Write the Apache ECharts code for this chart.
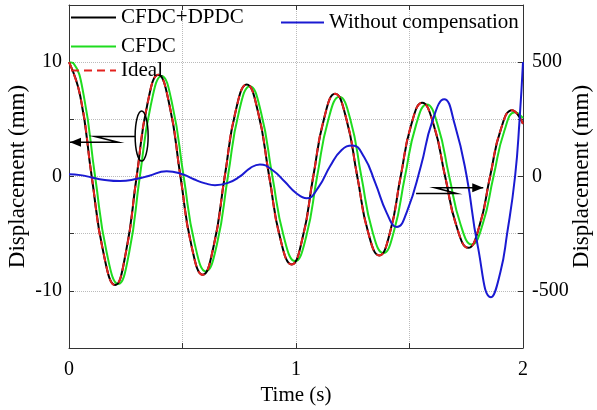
<!DOCTYPE html>
<html>
<head>
<meta charset="utf-8">
<script src="https://cdn.jsdelivr.net/npm/echarts@6/dist/echarts.min.js"></script>
<style>
html, body { margin: 0; padding: 0; background: #fff; }
#chart { width: 597px; height: 410px; }
</style>
</head>
<body>
<div id="chart"></div>
<script>
// [time (s), displacement (mm)]
const ideal = [
  [0, 10], [0.05, 7.0], [0.10, 0], [0.152, -6.7], [0.203, -9.5], [0.25, -6.7], [0.298, 0],
  [0.345, 6.3], [0.393, 8.9], [0.442, 6.3], [0.491, 0], [0.54, -6.1], [0.589, -8.6],
  [0.637, -6.1], [0.686, 0], [0.734, 5.7], [0.783, 8.05], [0.832, 5.7], [0.882, 0],
  [0.931, -5.45], [0.981, -7.7], [1.028, -5.45], [1.076, 0], [1.124, 5.1], [1.172, 7.23],
  [1.221, 5.1], [1.27, 0], [1.318, -4.9], [1.367, -6.9], [1.414, -4.9], [1.461, 0],
  [1.508, 4.55], [1.556, 6.44], [1.606, 4.55], [1.657, 0], [1.708, -4.4], [1.759, -6.24],
  [1.807, -4.4], [1.855, 0], [1.902, 4.1], [1.952, 5.8], [2.0, 4.6]
];
const cfdcDpdc = [
  [0, 10], [0.05, 7.0], [0.10, 0], [0.152, -6.7], [0.203, -9.5], [0.25, -6.7], [0.298, 0],
  [0.345, 6.3], [0.393, 8.9], [0.442, 6.3], [0.491, 0], [0.54, -6.1], [0.589, -8.6],
  [0.637, -6.1], [0.686, 0], [0.734, 5.7], [0.783, 8.05], [0.832, 5.7], [0.882, 0],
  [0.931, -5.45], [0.981, -7.7], [1.028, -5.45], [1.076, 0], [1.124, 5.1], [1.172, 7.23],
  [1.221, 5.1], [1.27, 0], [1.318, -4.9], [1.367, -6.9], [1.414, -4.9], [1.461, 0],
  [1.508, 4.55], [1.556, 6.44], [1.606, 4.55], [1.657, 0], [1.708, -4.4], [1.759, -6.24],
  [1.807, -4.4], [1.855, 0], [1.902, 4.1], [1.952, 5.8], [2.0, 4.6]
];
const cfdc = [
  [0, 10], [0.02, 9.9], [0.065, 7.07], [0.115, 0], [0.166, -6.65], [0.217, -9.4], [0.265, -6.65],
  [0.312, 0], [0.36, 6.2], [0.408, 8.8], [0.456, 6.2], [0.505, 0], [0.554, -5.9], [0.603, -8.3],
  [0.652, -5.9], [0.70, 0], [0.748, 5.6], [0.797, 7.9], [0.846, 5.6], [0.896, 0],
  [0.946, -5.25], [0.996, -7.4], [1.045, -5.25], [1.093, 0], [1.142, 4.95], [1.191, 6.97],
  [1.24, 4.95], [1.288, 0], [1.336, -4.75], [1.385, -6.7], [1.432, -4.75], [1.48, 0],
  [1.528, 4.45], [1.576, 6.3], [1.625, 4.45], [1.675, 0], [1.725, -4.2], [1.774, -5.95],
  [1.822, -4.2], [1.87, 0], [1.918, 4.0], [1.965, 5.63], [2.0, 5.1]
];
// [time (s), displacement (mm)] on the right axis
const withoutComp = [
  [0, 10], [0.05, 6], [0.1, -4], [0.15, -14], [0.225, -20], [0.3, -10], [0.35, 2], [0.43, 23],
  [0.5, 10], [0.55, -12], [0.6, -30], [0.643, -38], [0.7, -28], [0.75, -2], [0.8, 38],
  [0.841, 53], [0.9, 25], [0.95, -22], [1.0, -72], [1.047, -95], [1.1, -45], [1.15, 45],
  [1.2, 115], [1.248, 136], [1.3, 85], [1.35, -30], [1.4, -160], [1.444, -221], [1.49, -150],
  [1.55, 45], [1.6, 240], [1.653, 338], [1.7, 225], [1.752, 0], [1.8, -300], [1.859, -528],
  [1.9, -420], [1.93, -250], [1.965, 0], [1.985, 250], [2.0, 500]
];

const xTicks = [0, 1, 2];
const leftTicks = [-10, 0, 10];
const rightTicks = [-500, 0, 500];

const FONT = "'Liberation Serif', 'Times New Roman', serif";

var chart = echarts.init(document.getElementById('chart'));

const legendBase = {
  orient: 'vertical',
  itemWidth: 45,
  itemHeight: 14,
  padding: 0,
  selectedMode: false,
  itemStyle: { opacity: 0 }, // hide the symbol, keep the line
  textStyle: { fontSize: 21, fontFamily: FONT, color: '#000' }
};

const axisLine = { show: true, onZero: false, lineStyle: { color: '#333', width: 1 } };
const axisTick = { show: true, inside: true, length: 5, lineStyle: { color: '#333' } };

var option = {
  animation: false,
  backgroundColor: '#fff',
  textStyle: { fontFamily: FONT },
  legend: [
    Object.assign({ data: ['CFDC+DPDC'], left: 70, top: 7 }, legendBase),
    Object.assign({ data: ['CFDC'], left: 70, top: 36 }, legendBase),
    Object.assign({ data: ['Ideal'], left: 70, top: 60 }, legendBase),
    Object.assign({}, legendBase, { data: ['Without compensation'], left: 280, top: 12, itemWidth: 43 })
  ],
  grid: { left: 69, right: 74, top: 5, bottom: 62, containLabel: false, outerBoundsMode: 'none' },
  xAxis: [
    {
      type: 'value', min: 0, max: 2, interval: 0.5,
      name: 'Time (s)', nameLocation: 'middle', nameGap: 32,
      nameTextStyle: { fontSize: 21, fontFamily: FONT, color: '#000' },
      axisLine: axisLine,
      axisTick: axisTick,
      axisLabel: {
        fontSize: 20, fontFamily: FONT, color: '#000', margin: 12,
        formatter: v => xTicks.includes(v) ? String(v) : ''
      },
      splitLine: { show: true, lineStyle: { type: 'dotted', color: '#bbb', width: 1 } }
    },
    {
      type: 'value', min: 0, max: 2, interval: 0.5, position: 'top',
      axisLine: axisLine,
      axisTick: axisTick,
      axisLabel: { show: false },
      splitLine: { show: false }
    }
  ],
  yAxis: [
    {
      type: 'value', min: -15, max: 15, interval: 5,
      name: 'Displacement (mm)', nameLocation: 'middle', nameGap: 40, nameMoveOverlap: false,
      nameTextStyle: { fontSize: 23, fontFamily: FONT, color: '#000' },
      axisLine: axisLine,
      axisTick: axisTick,
      axisLabel: {
        fontSize: 20, fontFamily: FONT, color: '#000', margin: 7,
        formatter: v => leftTicks.includes(v) ? String(v) : ''
      },
      splitLine: { show: true, lineStyle: { type: 'dotted', color: '#bbb', width: 1 } }
    },
    {
      type: 'value', min: -750, max: 750, interval: 250, position: 'right',
      name: 'Displacement (mm)', nameLocation: 'middle', nameGap: 47, nameMoveOverlap: false,
      nameTextStyle: { fontSize: 23, fontFamily: FONT, color: '#000' },
      axisLine: axisLine,
      axisTick: axisTick,
      axisLabel: {
        fontSize: 20, fontFamily: FONT, color: '#000', margin: 9,
        formatter: v => rightTicks.includes(v) ? String(v) : ''
      },
      splitLine: { show: false }
    }
  ],
  series: [
    {
      name: 'CFDC', type: 'line', data: cfdc, smooth: true, symbol: 'none',
      lineStyle: { color: '#1fdc1f', width: 2 }, itemStyle: { color: '#1fdc1f' }
    },
    {
      name: 'CFDC+DPDC', type: 'line', data: cfdcDpdc, smooth: true, symbol: 'none',
      lineStyle: { color: '#000', width: 2 }, itemStyle: { color: '#000' }
    },
    {
      name: 'Ideal', type: 'line', data: ideal, smooth: true, symbol: 'none',
      lineStyle: { color: '#e3221f', width: 2, type: [8, 5] }, itemStyle: { color: '#e3221f' }
    },
    {
      name: 'Without compensation', type: 'line', data: withoutComp, yAxisIndex: 1,
      smooth: true, symbol: 'none',
      lineStyle: { color: '#1a1ad2', width: 2 }, itemStyle: { color: '#1a1ad2' }
    }
  ]
};

chart.setOption(option);

// annotations (ellipse + arrows), positioned in axis units
const px = (t, v) => chart.convertToPixel({ xAxisIndex: 0, yAxisIndex: 0 }, [t, v]);
const arrowHead = (tip, dir) => {
  const [x, y] = tip;
  return [[x, y], [x - dir * 11, y - 4.5], [x - dir * 11, y + 4.5]];
};
const c = px(0.320, 3.54);
const leftPath = [px(0.291, 3.49), px(0.1145, 3.49), px(0.217, 3.0), px(0.0044, 3.0)];
const rightPath = [px(1.529, -1.49), px(1.708, -1.49), px(1.612, -0.99), px(1.825, -0.99)];
chart.setOption({
  graphic: [
    { type: 'ellipse', shape: { cx: c[0], cy: c[1], rx: 6.5, ry: 25 },
      style: { fill: null, stroke: '#000', lineWidth: 1.5 }, z: 100 },
    { type: 'polyline', shape: { points: leftPath },
      style: { fill: null, stroke: '#000', lineWidth: 1.5 }, z: 100 },
    { type: 'polygon', shape: { points: arrowHead(leftPath[3], -1) },
      style: { fill: '#000' }, z: 100 },
    { type: 'polyline', shape: { points: rightPath },
      style: { fill: null, stroke: '#000', lineWidth: 1.5 }, z: 100 },
    { type: 'polygon', shape: { points: arrowHead(rightPath[3], 1) },
      style: { fill: '#000' }, z: 100 }
  ]
});
</script>
</body>
</html>
